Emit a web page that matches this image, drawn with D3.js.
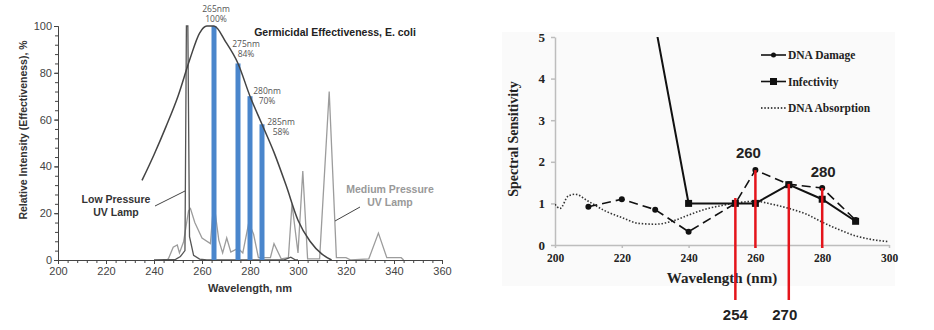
<!DOCTYPE html>
<html>
<head>
<meta charset="utf-8">
<script src="https://cdn.jsdelivr.net/npm/d3@7"></script>
<style>
  body { margin: 0; background: #fff; }
  svg { display: block; }
</style>
</head>
<body>
<svg id="chart"></svg>
<script>
// left panel: lamp spectra vs germicidal effectiveness
const xTicksLeft = [200, 220, 240, 260, 280, 300, 320, 340, 360];
const yTicksLeft = [0, 20, 40, 60, 80, 100];

const effectiveness = [
  [235, 34], [240, 45], [245, 57], [250, 70], [255, 86], [259, 97], [262, 100],
  [265, 100], [270, 93], [275, 84], [280, 70], [285, 58], [290, 46], [295, 32],
  [300, 17], [305, 8], [310, 2.5], [314, 0]
];

const lowPressure = [
  [240, 0], [249, 0.3], [251, 1.5], [252.9, 4], [253.5, 100], [254.1, 100],
  [254.8, 10], [256.5, 2], [259, 0.4], [262, 0], [294, 0], [297, 1.2], [299, 0], [300, 0]
];

const mediumPressure = [
  [245, 0], [246, 0.5], [248, 5.5], [249.7, 6.4], [250.6, 3], [252.3, 7.7], [254.4, 21],
  [255.2, 22], [257, 16], [260, 9.4], [263.5, 7], [264.9, 25], [267, 8.5], [268.6, 3],
  [270.3, 9.4], [272, 3.4], [275, 5], [277, 3], [279.5, 16], [281.5, 11], [283.5, 1],
  [288.5, 1], [290, 7], [293, 0.5], [296, 1], [297.5, 24], [300, 3], [302, 38],
  [304, 0.5], [309, 0.5], [313, 72], [316, 1], [320, 1], [322, 0], [329.5, 0.5],
  [333.5, 11.5], [337, 1], [343, 1], [344, 0]
];

const peakWl = [265, 275, 280, 285];
const peakPct = [100, 84, 70, 58];

// right panel: spectral sensitivity
const xTicksRight = [200, 220, 240, 260, 280, 300];
const yTicksRight = [0, 1, 2, 3, 4, 5];

const damageWl = [210, 220, 230, 240, 254, 260, 270, 280, 290];
const damageVal = [0.92, 1.1, 0.85, 0.32, 1.0, 1.8, 1.46, 1.37, 0.6];

const infectWl = [230, 240, 254, 260, 270, 280, 290];
const infectVal = [5.3, 1.0, 1.0, 1.0, 1.45, 1.1, 0.57];

const absorbWl = [200, 201.5, 204, 206, 210, 215, 220, 225, 230, 235, 240, 245, 250,
  255, 260, 265, 270, 275, 280, 285, 290, 295, 300];
const absorbVal = [0.98, 0.88, 1.18, 1.22, 1.05, 0.82, 0.66, 0.52, 0.5, 0.57, 0.72, 0.86,
  0.95, 1.02, 1.05, 0.98, 0.88, 0.75, 0.55, 0.37, 0.22, 0.13, 0.08];

const markWl = [254, 260, 270, 280];
const markTop = [1.13, 1.8, 1.47, 1.37];

const width = 934;
const height = 330;
const sans = "Liberation Sans, Arial, sans-serif";
const serif = "Liberation Serif, Times New Roman, serif";

const svg = d3.select('#chart')
  .attr('width', width)
  .attr('height', height);

// ---------- left panel ----------
const x = d3.scaleLinear().domain([200, 360]).range([58, 442]);
const y = d3.scaleLinear().domain([0, 100]).range([260, 26]);

const left = svg.append('g');

const lampLine = d3.line()
  .x(d => x(d[0]))
  .y(d => y(d[1]));

left.append('path')
  .datum(mediumPressure)
  .attr('fill', 'none')
  .attr('stroke', '#9c9c9c')
  .attr('stroke-width', 1.3)
  .attr('d', lampLine);

left.append('path')
  .datum(lowPressure)
  .attr('fill', 'none')
  .attr('stroke', '#555')
  .attr('stroke-width', 1.3)
  .attr('d', lampLine);

left.selectAll('rect.peak')
  .data(peakWl)
  .enter().append('rect')
  .attr('class', 'peak')
  .attr('x', d => x(d) - 2.5)
  .attr('width', 5)
  .attr('y', (d, i) => y(peakPct[i]))
  .attr('height', (d, i) => y(0) - y(peakPct[i]))
  .attr('fill', '#4a86cc');

left.append('path')
  .datum(effectiveness)
  .attr('fill', 'none')
  .attr('stroke', '#444')
  .attr('stroke-width', 1.5)
  .attr('d', d3.line().x(d => x(d[0])).y(d => y(d[1])).curve(d3.curveMonotoneX));

// peak labels sit above or beside the bars, two lines each
const labelDx = [2, 8, 17, 19];
const labelDy = [-14, -16, -2, 1];
const peakG = left.selectAll('g.peak')
  .data(peakWl)
  .enter().append('g')
  .attr('class', 'peak')
  .attr('transform', (d, i) => `translate(${x(d) + labelDx[i]},${y(peakPct[i]) + labelDy[i]})`);
peakG.append('text')
  .attr('text-anchor', 'middle')
  .style('font-family', 'Open Sans, sans-serif')
  .style('font-size', '8.5px')
  .attr('fill', '#555')
  .text(d => d + 'nm');
peakG.append('text')
  .attr('y', 10)
  .attr('text-anchor', 'middle')
  .style('font-family', 'Open Sans, sans-serif')
  .style('font-size', '8.5px')
  .attr('fill', '#555')
  .text((d, i) => peakPct[i] + '%');

// axes
left.append('g')
  .attr('transform', `translate(0,${y(0)})`)
  .call(d3.axisBottom(x).tickValues(xTicksLeft).tickSize(4).tickSizeOuter(0).tickPadding(3));
left.append('g')
  .attr('transform', `translate(0,${y(0)})`)
  .call(d3.axisBottom(x).tickValues(d3.range(200, 361, 4)).tickSize(3).tickFormat(''));

left.append('g')
  .attr('transform', `translate(${x(200)},0)`)
  .call(d3.axisLeft(y).tickValues(yTicksLeft).tickSize(4).tickSizeOuter(0).tickPadding(2));
left.append('g')
  .attr('transform', `translate(${x(200)},0)`)
  .call(d3.axisLeft(y).tickValues(d3.range(0, 101, 4)).tickSize(3).tickFormat(''));

left.selectAll('.domain, .tick line').attr('stroke', '#444').attr('stroke-width', 1);
left.selectAll('.tick text')
  .style('font-family', sans)
  .style('font-size', '11px')
  .attr('fill', '#444');

left.append('text')
  .attr('transform', 'translate(27,130) rotate(-90)')
  .attr('text-anchor', 'middle')
  .style('font-family', sans)
  .style('font-size', '10.5px')
  .style('font-weight', 'bold')
  .attr('fill', '#333')
  .text('Relative Intensity (Effectiveness), %');

left.append('text')
  .attr('x', 250)
  .attr('y', 292)
  .attr('text-anchor', 'middle')
  .style('font-family', sans)
  .style('font-size', '11px')
  .style('font-weight', 'bold')
  .attr('fill', '#333')
  .text('Wavelength, nm');

left.append('text')
  .attr('x', 335)
  .attr('y', 36)
  .attr('text-anchor', 'middle')
  .style('font-family', sans)
  .style('font-size', '10.5px')
  .style('font-weight', 'bold')
  .attr('fill', '#222')
  .text('Germicidal Effectiveness, E. coli');

// lamp annotations
function lampNote(lines, cx, cy, color, from, to) {
  const t = left.append('text')
    .attr('text-anchor', 'middle')
    .style('font-family', sans)
    .style('font-size', '10.5px')
    .style('font-weight', 'bold')
    .attr('fill', color);
  lines.forEach((s, i) => {
    t.append('tspan').attr('x', cx).attr('y', cy + i * 13).text(s);
  });
  left.append('line')
    .attr('x1', from[0]).attr('y1', from[1])
    .attr('x2', to[0]).attr('y2', to[1])
    .attr('stroke', '#444')
    .attr('stroke-width', 1);
}
lampNote(['Low Pressure', 'UV Lamp'], 116, 203, '#333', [155, 206], [185, 191]);
lampNote(['Medium Pressure', 'UV Lamp'], 390, 193, '#999', [335, 221], [360, 207]);

// ---------- right panel ----------
const x2 = d3.scaleLinear().domain([200, 300]).range([555, 889]);
const y2 = d3.scaleLinear().domain([0, 5]).range([245, 37]);

const right = svg.append('g');

right.append('rect')
  .attr('x', 502).attr('y', 32)
  .attr('width', 393).attr('height', 254)
  .attr('fill', '#fafafa');

right.append('clipPath')
  .attr('id', 'plot-clip')
  .append('rect')
  .attr('x', x2(200)).attr('y', y2(5))
  .attr('width', x2(300) - x2(200)).attr('height', y2(0) - y2(5) + 5);

const yAxisR = right.append('g')
  .attr('transform', `translate(${x2(200)},0)`)
  .call(d3.axisLeft(y2).tickValues(yTicksRight).tickFormat(d3.format('d')).tickSize(4).tickSizeOuter(0).tickPadding(6));
const xAxisR = right.append('g')
  .attr('transform', `translate(0,${y2(0)})`)
  .call(d3.axisBottom(x2).tickValues(xTicksRight).tickSize(3).tickSizeOuter(0).tickPadding(6));

right.selectAll('.domain, .tick line').attr('stroke', '#bdbdbd').attr('stroke-width', 1.5);
yAxisR.selectAll('.tick text')
  .style('font-family', serif)
  .style('font-size', '13px')
  .style('font-weight', 'bold')
  .attr('fill', '#222');
xAxisR.selectAll('.tick text')
  .style('font-family', serif)
  .style('font-size', '11.5px')
  .style('font-weight', 'bold')
  .attr('fill', '#222');

right.append('text')
  .attr('transform', 'translate(518,139) rotate(-90)')
  .attr('text-anchor', 'middle')
  .style('font-family', serif)
  .style('font-size', '14px')
  .style('font-weight', 'bold')
  .attr('fill', '#222')
  .text('Spectral Sensitivity');

right.append('text')
  .attr('x', 722)
  .attr('y', 283)
  .attr('text-anchor', 'middle')
  .style('font-family', serif)
  .style('font-size', '15px')
  .style('font-weight', 'bold')
  .attr('fill', '#222')
  .text('Wavelength (nm)');

const plot = right.append('g').attr('clip-path', 'url(#plot-clip)');

const absorb = absorbWl.map((d, i) => [d, absorbVal[i]]);
const damage = damageWl.map((d, i) => [d, damageVal[i]]);
const infect = infectWl.map((d, i) => [d, infectVal[i]]);

const line2 = d3.line().x(d => x2(d[0])).y(d => y2(d[1]));

plot.append('path')
  .datum(absorb)
  .attr('fill', 'none')
  .attr('stroke', '#333')
  .attr('stroke-width', 1.6)
  .attr('stroke-dasharray', '1.5,1.8')
  .attr('d', line2.curve(d3.curveMonotoneX));

line2.curve(d3.curveLinear);

plot.append('path')
  .datum(damage)
  .attr('fill', 'none')
  .attr('stroke', '#111')
  .attr('stroke-width', 1.6)
  .attr('stroke-dasharray', '9,5')
  .attr('d', line2);

plot.append('path')
  .datum(infect)
  .attr('fill', 'none')
  .attr('stroke', '#111')
  .attr('stroke-width', 2)
  .attr('d', line2);

// red reference lines at the lamp wavelengths
const markBottom = [300, 248, 300, 248];
const markLabelX = [0, -7, -4, 1];
const markLabelY = [320, 158, 320, 177];
right.selectAll('line.mark')
  .data(markWl)
  .enter().append('line')
  .attr('class', 'mark')
  .attr('x1', d => x2(d)).attr('x2', d => x2(d))
  .attr('y1', (d, i) => y2(markTop[i]))
  .attr('y2', (d, i) => markBottom[i])
  .attr('stroke', '#e4141b')
  .attr('stroke-width', 2.5);

plot.selectAll('circle.damage')
  .data(damage.filter(d => d[0] !== 254))
  .enter().append('circle')
  .attr('class', 'damage')
  .attr('cx', d => x2(d[0]))
  .attr('cy', d => y2(d[1]))
  .attr('r', 3)
  .attr('fill', '#111');

plot.selectAll('rect.infect')
  .data(infect)
  .enter().append('rect')
  .attr('class', 'infect')
  .attr('x', d => x2(d[0]) - 3.5)
  .attr('y', d => y2(d[1]) - 3.5)
  .attr('width', 7).attr('height', 7)
  .attr('fill', '#111');

right.selectAll('text.mark')
  .data(markWl)
  .enter().append('text')
  .attr('class', 'mark')
  .attr('x', (d, i) => x2(d) + markLabelX[i])
  .attr('y', (d, i) => markLabelY[i])
  .attr('text-anchor', 'middle')
  .style('font-family', sans)
  .style('font-size', '15px')
  .style('font-weight', 'bold')
  .attr('fill', '#222')
  .text(d => d);

// legend
const legendNames = ['DNA Damage', 'Infectivity', 'DNA Absorption'];
const legend = right.append('g').attr('transform', 'translate(761,0)');
legendNames.forEach((name, i) => {
  const ly = 55 + i * 26.5;
  legend.append('line')
    .attr('x1', 0).attr('x2', 25)
    .attr('y1', ly).attr('y2', ly)
    .attr('stroke', '#111')
    .attr('stroke-width', i === 2 ? 1.4 : 1.6)
    .attr('stroke-dasharray', i === 2 ? '1.5,1.8' : null);
  if (i === 0) {
    legend.append('circle').attr('cx', 12.5).attr('cy', ly).attr('r', 2.5).attr('fill', '#111');
  } else if (i === 1) {
    legend.append('rect').attr('x', 9).attr('y', ly - 3.5).attr('width', 7).attr('height', 7).attr('fill', '#111');
  }
  legend.append('text')
    .attr('x', 27)
    .attr('y', ly + 4)
    .style('font-family', serif)
    .style('font-size', '11.5px')
    .style('font-weight', 'bold')
    .attr('fill', '#222')
    .text(name);
});
</script>
</body>
</html>
